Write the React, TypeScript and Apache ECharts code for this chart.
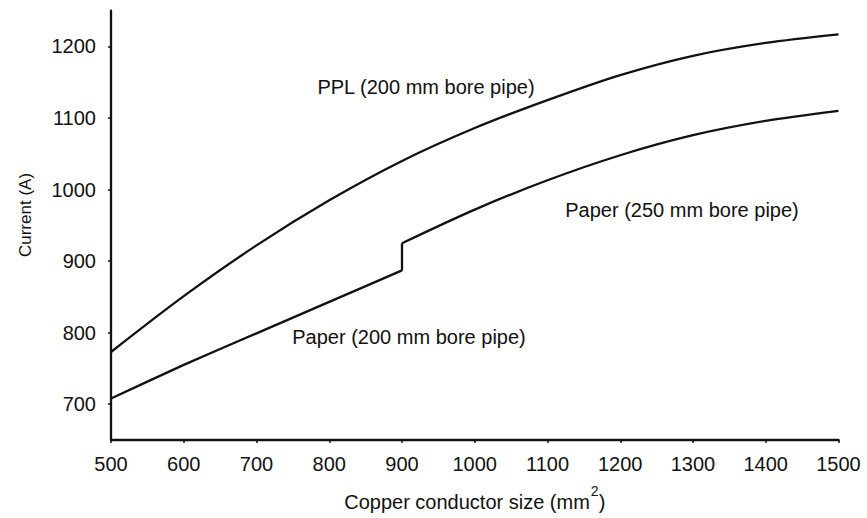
import React, { useEffect, useRef } from "react";
import * as echarts from "echarts";

const conductorSizes = [500, 600, 700, 800, 900, 1000, 1100, 1200, 1300, 1400, 1500];
const pplCurrent = [773, 851, 922, 985, 1040, 1086, 1125, 1160, 1187, 1205, 1217];
const paper200Sizes = [500, 600, 700, 800, 900];
const paper200Current = [708, 755, 799, 843, 887];
const paper250Sizes = [900, 1000, 1100, 1200, 1300, 1400, 1500];
const paper250Current = [925, 972, 1013, 1048, 1076, 1096, 1110];
const xTicks = [500, 600, 700, 800, 900, 1000, 1100, 1200, 1300, 1400, 1500];
const yTicks = [700, 800, 900, 1000, 1100, 1200];

const FONT = "Liberation Sans, Arial, Helvetica, sans-serif";
const INK = "#111";

export default function App() {
  const ref = useRef<HTMLDivElement>(null);
  useEffect(() => {
    document.body.style.margin = "0";
    if (!ref.current) return;
    const chart = echarts.init(ref.current, null, { renderer: "svg" });
    const pair = (xs: number[], ys: number[]) => xs.map((x, i) => [x, ys[i]]);
    const lineStyle = { color: INK, width: 2.3 };
    const plain = (v: number) => String(v);
    chart.setOption({
      animation: false,
      backgroundColor: "#fff",
      grid: { left: 111, right: 28.5, top: 10.7, bottom: 78 },
      xAxis: {
        type: "value",
        min: 500,
        max: 1500,
        interval: 100,
        splitLine: { show: false },
        axisLine: { lineStyle: { color: INK, width: 2.3 } },
        axisTick: { show: true, length: 3, lineStyle: { color: INK, width: 1.5 }, customValues: xTicks },
        axisLabel: { color: INK, fontSize: 20, fontFamily: FONT, margin: 14, customValues: xTicks, formatter: plain },
        name: "{m|Copper conductor size (mm}{s|2}{m|)}",
        nameLocation: "middle",
        nameGap: 48,
        nameTextStyle: {
          color: INK,
          fontSize: 20,
          fontFamily: FONT,
          rich: {
            m: { fontSize: 20, fontFamily: FONT, color: INK, lineHeight: 24, verticalAlign: "bottom" },
            s: { fontSize: 14, fontFamily: FONT, color: INK, lineHeight: 14, padding: [0, 0, 14, 1], verticalAlign: "bottom" },
          },
        },
      },
      yAxis: {
        type: "value",
        min: 650,
        max: 1250,
        splitLine: { show: false },
        axisLine: { show: true, lineStyle: { color: INK, width: 2.3 } },
        axisTick: { show: true, length: 3, lineStyle: { color: INK, width: 1.5 }, customValues: yTicks },
        axisLabel: { color: INK, fontSize: 20, fontFamily: FONT, margin: 15, customValues: yTicks, formatter: plain },
      },
      graphic: [
        {
          type: "text",
          x: 25,
          y: 215,
          rotation: Math.PI / 2,
          style: { text: "Current (A)", fontSize: 17, fontFamily: FONT, fill: INK, align: "center", verticalAlign: "middle" },
        },
        {
          type: "text",
          x: 426,
          y: 87,
          style: { text: "PPL (200 mm bore pipe)", fontSize: 20, fontFamily: FONT, fill: INK, align: "center", verticalAlign: "middle" },
        },
        {
          type: "text",
          x: 682,
          y: 210,
          style: { text: "Paper (250 mm bore pipe)", fontSize: 20, fontFamily: FONT, fill: INK, align: "center", verticalAlign: "middle" },
        },
        {
          type: "text",
          x: 409,
          y: 337,
          style: { text: "Paper (200 mm bore pipe)", fontSize: 20, fontFamily: FONT, fill: INK, align: "center", verticalAlign: "middle" },
        },
      ],
      series: [
        {
          name: "PPL (200 mm bore pipe)",
          type: "line",
          data: pair(conductorSizes, pplCurrent),
          smooth: 0.3,
          symbol: "none",
          lineStyle,
        },
        {
          name: "Paper (200 mm bore pipe)",
          type: "line",
          data: pair(paper200Sizes, paper200Current),
          smooth: 0.2,
          symbol: "none",
          lineStyle,
        },
        {
          name: "step",
          type: "line",
          data: [
            [paper200Sizes[paper200Sizes.length - 1], paper200Current[paper200Current.length - 1]],
            [paper250Sizes[0], paper250Current[0]],
          ],
          symbol: "none",
          lineStyle,
        },
        {
          name: "Paper (250 mm bore pipe)",
          type: "line",
          data: pair(paper250Sizes, paper250Current),
          smooth: 0.3,
          symbol: "none",
          lineStyle,
        },
      ],
    });
    return () => chart.dispose();
  }, []);
  return <div ref={ref} style={{ width: 867, height: 518 }} />;
}
